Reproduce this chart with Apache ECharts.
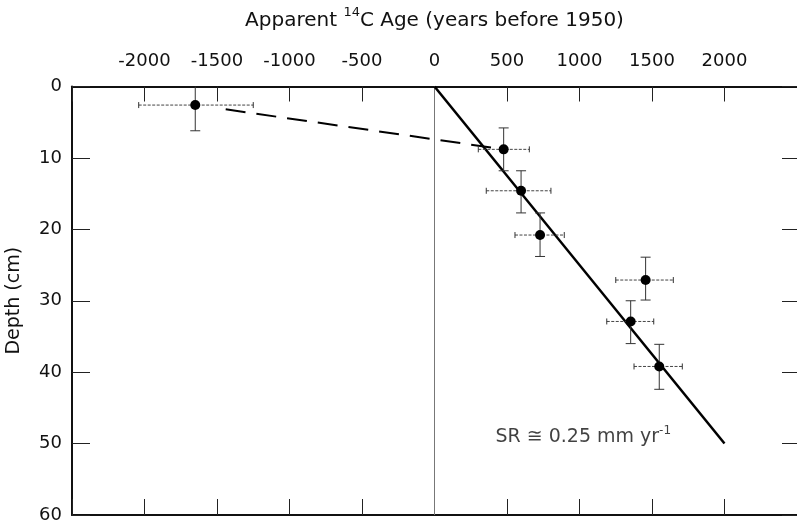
<!DOCTYPE html>
<html>
<head>
<meta charset="utf-8">
<script src="https://cdn.jsdelivr.net/npm/echarts@6/dist/echarts.min.js"></script>
<style>html,body{margin:0;padding:0;background:#fff}#c{width:797px;height:531px}</style>
</head>
<body>
<div id="c"></div>
<script>
// Apparent 14C ages (years before 1950) and depths (cm)
const ages      = [-1650, 477, 597, 728, 1456, 1353, 1550];
const depths    = [2.6, 8.8, 14.6, 20.8, 27.1, 32.9, 39.2];
const ageLow    = [-2040, 302, 357, 555, 1250, 1188, 1376];
const ageHigh   = [-1250, 654, 803, 895, 1647, 1512, 1709];
const depthLow  = [-1, 5.8, 11.8, 17.7, 23.9, 30.0, 36.1];
const depthHigh = [6.2, 11.8, 17.7, 23.8, 29.9, 36.0, 42.4];
// sedimentation-rate fit (SR = 0.25 mm/yr)
const fitAges   = [0, 2000];
const fitDepths = [0, 50];
// dashed connector between surface sample and first subsurface sample
const dashAges   = [-1440, 477];
const dashDepths = [3.2, 8.8];
// zero-age reference line
const zeroAges   = [0, 0];
const zeroDepths = [0, 60];
const xTicks = [-2000, -1500, -1000, -500, 0, 500, 1000, 1500, 2000];
const yTicks = [0, 10, 20, 30, 40, 50, 60];

const FONT = 'DejaVu Sans';
const zip = (a, b) => a.map((v, i) => [v, b[i]]);
const errData = ages.map((v, i) => [v, depths[i], ageLow[i], ageHigh[i], depthLow[i], depthHigh[i]]);

const chart = echarts.init(document.getElementById('c'), null, {renderer: 'canvas'});
const tickStyle = {color: '#222', width: 1};
const option = {
  animation: false,
  backgroundColor: '#fff',
  grid: {left: 72, right: 0, top: 86.5, bottom: 16, containLabel: false, outerBoundsMode: 'none'},
  xAxis: [{
    type: 'value', position: 'top', min: -2500, max: 2500, interval: 500,
    name: '{t|Apparent }{s|14}{t|C Age (years before 1950)}',
    nameLocation: 'middle', nameGap: 56,
    nameTextStyle: {rich: {
      t: {fontFamily: FONT, fontSize: 20, color: '#111', lineHeight: 24, verticalAlign: 'bottom'},
      s: {fontFamily: FONT, fontSize: 13, color: '#111', lineHeight: 14, verticalAlign: 'top'}
    }},
    axisLine: {show: true, onZero: false, lineStyle: {color: '#111', width: 2}},
    axisTick: {show: true, inside: true, length: 15, lineStyle: tickStyle},
    axisLabel: {margin: 16, fontFamily: FONT, fontSize: 18, color: '#111',
      formatter: v => xTicks.includes(v) ? String(v) : ''},
    splitLine: {show: false}
  }, {
    type: 'value', position: 'bottom', min: -2500, max: 2500, interval: 500,
    axisLine: {show: true, onZero: false, lineStyle: {color: '#111', width: 2}},
    axisTick: {show: true, inside: true, length: 16, lineStyle: tickStyle},
    axisLabel: {show: false}, splitLine: {show: false}
  }],
  yAxis: [{
    type: 'value', position: 'left', inverse: true, min: 0, max: 60, interval: 10,
    name: 'Depth (cm)', nameLocation: 'middle', nameGap: 48, nameRotate: 90,
    nameTextStyle: {fontFamily: FONT, fontSize: 19, color: '#111'},
    axisLine: {show: true, onZero: false, lineStyle: {color: '#111', width: 2}},
    axisTick: {show: true, inside: true, length: 18, lineStyle: tickStyle},
    axisLabel: {margin: 10, fontFamily: FONT, fontSize: 18, color: '#111',
      formatter: v => yTicks.includes(v) ? String(v) : ''},
    splitLine: {show: false}
  }, {
    type: 'value', position: 'right', inverse: true, min: 0, max: 60, interval: 10,
    axisLine: {show: false, onZero: false},
    axisTick: {show: true, inside: true, length: 15, lineStyle: tickStyle},
    axisLabel: {show: false}, splitLine: {show: false}
  }],
  series: [
    {type: 'line', data: zip(zeroAges, zeroDepths), symbol: 'none', silent: true,
      lineStyle: {color: '#777', width: 1}, z: 1},
    {type: 'line', data: zip(fitAges, fitDepths), symbol: 'none', silent: true,
      lineStyle: {color: '#000', width: 2.5}, z: 3},
    {type: 'line', data: zip(dashAges, dashDepths), symbol: 'none', silent: true,
      lineStyle: {color: '#000', width: 2, type: [20, 11]}, z: 3},
    {type: 'custom', clip: true, z: 4, data: errData,
      renderItem: function (params, api) {
        const x = api.value(0), y = api.value(1);
        const pL = api.coord([api.value(2), y]);
        const pR = api.coord([api.value(3), y]);
        const pT = api.coord([x, api.value(4)]);
        const pB = api.coord([x, api.value(5)]);
        const st = {stroke: '#333', lineWidth: 1};
        const dst = {stroke: '#444', lineWidth: 1, lineDash: [3, 1.5]};
        const h = 3, w = 5;
        return {type: 'group', children: [
          {type: 'line', shape: {x1: pL[0], y1: pL[1], x2: pR[0], y2: pR[1]}, style: dst},
          {type: 'line', shape: {x1: pL[0], y1: pL[1] - h, x2: pL[0], y2: pL[1] + h}, style: st},
          {type: 'line', shape: {x1: pR[0], y1: pR[1] - h, x2: pR[0], y2: pR[1] + h}, style: st},
          {type: 'line', shape: {x1: pT[0], y1: pT[1], x2: pB[0], y2: pB[1]}, style: st},
          {type: 'line', shape: {x1: pT[0] - w, y1: pT[1], x2: pT[0] + w, y2: pT[1]}, style: st},
          {type: 'line', shape: {x1: pB[0] - w, y1: pB[1], x2: pB[0] + w, y2: pB[1]}, style: st}
        ]};
      }},
    {type: 'scatter', data: zip(ages, depths), symbol: 'circle', symbolSize: 10,
      itemStyle: {color: '#000', opacity: 1}, z: 5},
    {type: 'scatter', data: [[420, 48.9]], symbolSize: 0, silent: true, z: 6,
      label: {show: true, position: 'right', distance: 0,
        formatter: '{t|SR ≅ 0.25 mm yr}{s|-1}',
        rich: {
          t: {fontFamily: FONT, fontSize: 19, color: '#111', lineHeight: 22, verticalAlign: 'bottom'},
          s: {fontFamily: FONT, fontSize: 12, color: '#111', lineHeight: 13, verticalAlign: 'top'}
        }}}
  ]
};
chart.setOption(option);
</script>
</body>
</html>
